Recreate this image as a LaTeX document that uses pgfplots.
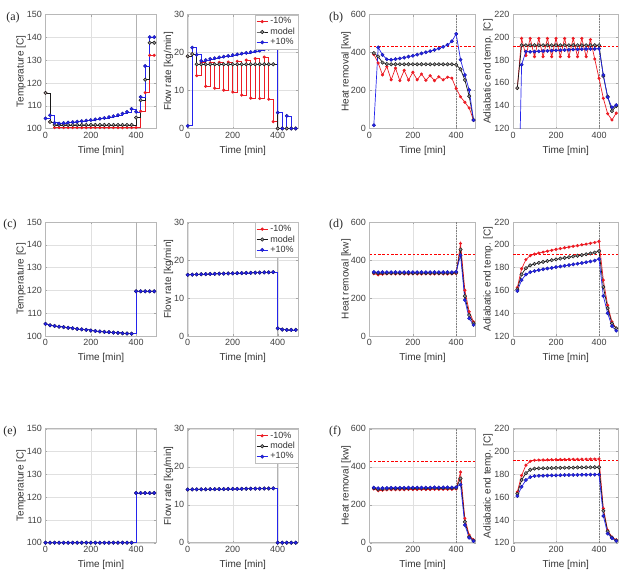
\documentclass[border=0pt]{standalone}
\usepackage{pgfplots}
\pgfplotsset{compat=1.18}
\usepackage{pgfplotstable}
\usepackage{fontspec}
\setmainfont{Liberation Sans}
\newfontfamily\panelfont{Liberation Serif}

\definecolor{cr}{RGB}{236,28,36}
\definecolor{cb}{RGB}{36,36,236}
\definecolor{ck}{RGB}{25,25,25}

% ---------- case (a)/(b): columns r = -10%, k = model, b = +10% ----------
\pgfplotstableread{
t r k b
0 115.6 115.6 104.4
20 102.9 102.9 105.8
40 100.4 101.6 102.5
60 100.4 101.6 102.2
80 100.4 101.6 102.4
100 100.4 101.6 102.6
120 100.4 101.6 102.8
140 100.4 101.6 103.0
160 100.4 101.6 103.2
180 100.4 101.6 103.5
200 100.4 101.6 103.7
220 100.4 101.6 104.0
240 100.4 101.6 104.3
260 100.4 101.6 104.6
280 100.4 101.6 105.0
300 100.4 101.6 105.4
320 100.4 101.6 105.9
340 100.4 101.6 106.5
360 100.4 101.6 107.3
380 100.4 101.6 108.6
400 100.4 104.8 107.3
420 107.6 112.4 113.8
440 115.7 121.4 127.4
460 132.1 137.6 140.1
480 132.1 137.6 140.1
}\Ta

\pgfplotstableread{
t r k b
0 19.0 19.0 0.7
20 19.6 19.6 21.3
40 13.9 16.9 19.4
60 17.3 16.9 17.8
80 11.1 16.9 18.0
100 17.3 16.9 18.3
120 10.6 16.9 18.5
140 17.4 16.9 18.7
160 10.1 16.9 18.9
180 17.5 16.9 19.1
200 9.6 16.9 19.3
220 17.7 16.9 19.5
240 8.8 16.9 19.7
260 18.0 16.9 19.9
280 8.0 16.9 20.1
300 18.4 16.9 20.3
320 7.9 16.9 20.5
340 18.8 16.9 20.8
360 7.7 16.9 21.0
380 1.8 16.9 21.3
400 0 0 4.2
420 0 0 0
440 0 0 3.3
460 0 0 0
480 0 0 0
}\Fa

\pgfplotstableread{
t r k b
20 390 397 17
40 345 379 427
60 282 347 388
80 326 340 364
100 256 338 362
120 318 338 365
140 252 338 369
160 306 338 373
180 255 338 378
200 296 338 383
220 256 338 389
240 287 338 395
260 254 338 401
280 278 338 407
300 252 338 414
320 272 338 421
340 256 338 430
360 270 338 440
380 265 338 459
400 210 335 498
420 167 312 362
440 138 255 282
460 108 170 203
480 44 45 44
}\Ha

\pgfplotstableread{
t r k b
20 155.5 155.5 0
40 199 193 176
60 184 193 187.5
80 199 193 187.3
100 183 193 187.5
120 199 193 187.7
140 183 193 187.9
160 199 193 188.1
180 183 193 188.3
200 199 193 188.5
220 183 193 188.7
240 199 193 188.9
260 183 193 189.1
280 199 193 189.3
300 183 193 189.5
320 199 193 189.6
340 183 193 189.7
360 198 193 189.8
380 181 193 189.9
400 164 193 190
420 146.5 166 167
440 133 148 147.4
460 127.5 135.3 138.5
480 133.5 139.7 140.6
}\Aa

% ---------- case (c)/(d) ----------
\pgfplotstableread{
t v
0 105.3
20 104.7
40 104.4
60 104.1
80 103.9
100 103.6
120 103.4
140 103.1
160 102.9
180 102.7
200 102.4
220 102.2
240 102.0
260 101.8
280 101.7
300 101.5
320 101.4
340 101.2
360 101.1
380 101.0
400 119.6
420 119.6
440 119.6
460 119.6
480 119.6
}\Tc

\pgfplotstableread{
t v
0 16.10
20 16.15
40 16.20
60 16.25
80 16.30
100 16.33
120 16.36
140 16.40
160 16.43
180 16.46
200 16.50
220 16.53
240 16.56
260 16.60
280 16.63
300 16.66
320 16.70
340 16.73
360 16.76
380 16.80
400 2.0
420 1.7
440 1.6
460 1.6
480 1.6
}\Fc

\pgfplotstableread{
t r k b
20 328 333 337
40 322 330 335
60 326 331 336
80 327 331 336
100 327 331 336
120 327 331 336
140 327 331 336
160 327 331 336
180 327 331 336
200 327 331 336
220 327 331 336
240 327 331 336
260 327 331 336
280 327 331 336
300 327 331 336
320 327 331 336
340 327 331 336
360 327 331 336
380 327 331 336
400 329 333 338
420 487 455 425
440 241 210 189
460 128 110 93
480 75 67 58
}\Hd

\pgfplotstableread{
t r k b
20 162.5 161 159.5
40 179 174 169
60 187 179.5 174
80 190.5 182 176
100 191.8 183.3 177
120 192.8 184.2 177.8
140 193.6 185 178.5
160 194.4 185.8 179.2
180 195.2 186.5 179.8
200 196 187.2 180.4
220 196.7 187.9 181
240 197.4 188.5 181.6
260 198 189.1 182.2
280 198.7 189.8 182.8
300 199.3 190.4 183.4
320 200 191 184
340 200.6 191.7 184.7
360 201.3 192.4 185.4
380 202 193.2 186.2
400 203 194.5 187.5
420 169 163 155
440 147 144.5 140
460 132.5 131 128.7
480 126.7 126.7 124.6
}\Ad

% ---------- case (e)/(f) ----------
\pgfplotstableread{
t v
0 100
20 100
40 100
60 100
80 100
100 100
120 100
140 100
160 100
180 100
200 100
220 100
240 100
260 100
280 100
300 100
320 100
340 100
360 100
380 100
400 121.8
420 121.8
440 121.8
460 121.8
480 121.8
}\Te

\pgfplotstableread{
t v
0 14.00
20 14.02
40 14.03
60 14.05
80 14.06
100 14.08
120 14.09
140 14.11
160 14.12
180 14.14
200 14.15
220 14.17
240 14.18
260 14.20
280 14.21
300 14.23
320 14.24
340 14.26
360 14.27
380 14.30
400 0
420 0
440 0
460 0
480 0
}\Fe

\pgfplotstableread{
t r k b
20 283 287 290
40 274 280 287
60 276 282 287
80 278 284 288
100 279 285 289
120 279 285 289
140 279 285 289
160 279 285 289
180 280 286 290
200 280 286 290
220 280 286 290
240 280 286 290
260 280 286 290
280 280 286 290
300 281 287 291
320 281 287 291
340 281 287 291
360 281 287 291
380 281 287 291
400 283 288 292
420 372 338 306
440 128 110 93
460 40 32 26
480 15 11 8
}\Hf

\pgfplotstableread{
t r k b
20 164.5 163 161
40 179 175 169
60 188 181 175
80 191.4 184 177.5
100 192.3 185 178.5
120 192.5 185.2 178.7
140 192.6 185.3 178.8
160 192.7 185.4 178.9
180 192.8 185.5 179
200 192.9 185.6 179.1
220 193 185.7 179.2
240 193 185.8 179.3
260 193.1 185.8 179.4
280 193.2 185.9 179.4
300 193.2 186 179.5
320 193.3 186 179.6
340 193.3 186.1 179.6
360 193.4 186.1 179.7
380 193.4 186.2 179.7
400 193.5 186.2 179.8
420 150 148 143.5
440 131 130 128
460 125 124.5 124
480 122.5 122 121.5
}\Af

\pgfplotsset{
  panel/.style={
    scale only axis, height=114pt, xmin=0, xmax=490, xtick={0,200,400},
    grid=major, grid style={black!12, line width=0.4pt},
    axis line style={black!28, line width=0.5pt},
    tick style={black!35, line width=0.4pt}, major tick length=2pt, tick align=inside,
    ticklabel style={font=\fontsize{9}{10}\selectfont, text=black!75},
    /pgf/number format/assume math mode=true,
    label style={font=\fontsize{10}{11}\selectfont, text=black!80},
    xlabel={Time [min]},
    xlabel style={at={(axis description cs:0.5,-0.195)}, anchor=center},
    legend cell align=left,
    legend image code/.code={\draw[mark repeat=2,mark phase=2] plot coordinates {(0cm,0cm) (0.2cm,0cm) (0.4cm,0cm)};},
    legend style={at={(1,1)}, anchor=north east, draw=black!25, fill=white,
      font=\fontsize{9}{10}\selectfont, text=black!80, inner xsep=1pt, inner ysep=1pt, row sep=-1.5pt},
  },
  colT/.style={panel, width=111pt, ymin=100, ymax=150, ytick={100,110,...,150},
    ylabel={Temperature [C]}, ylabel style={at={(axis description cs:-0.221,0.5)}, anchor=center}},
  colF/.style={panel, width=110.3pt, ymin=0, ymax=30, ytick={0,10,20,30},
    ylabel={Flow rate [kg/min]}, ylabel style={at={(axis description cs:-0.174,0.5)}, anchor=center}},
  colH/.style={panel, width=106.2pt, ymin=0, ymax=600, ytick={0,200,400,600},
    ylabel={Heat removal [kw]}, ylabel style={at={(axis description cs:-0.221,0.5)}, anchor=center}},
  colA/.style={panel, width=105.4pt, ymin=120, ymax=220, ytick={120,140,...,220},
    ylabel={Adiabatic end temp. [C]}, ylabel style={at={(axis description cs:-0.237,0.5)}, anchor=center}},
  sr/.style={cr, line width=0.7pt, mark=*, mark size=1.2pt, mark options={fill=cr, draw=cr}},
  sk/.style={ck, line width=0.7pt, mark=*, mark size=1.7pt, mark options={fill=black!40, draw=ck, line width=0.5pt}},
  sb/.style={cb, line width=0.7pt, mark=*, mark size=1.7pt, mark options={fill=cb, draw=cb!70!black, line width=0.4pt}},
  vline/.style={black!30, line width=0.5pt, forget plot},
  vdot/.style={black!50, line width=0.6pt, densely dotted, forget plot},
  lim/.style={draw=red, color=red, line width=0.7pt, dash pattern=on 2.5pt off 1.8pt, forget plot},
}

\begin{document}
\begin{tikzpicture}
\path[use as bounding box] (0pt,0pt) rectangle (622pt,-576pt);

% ===== row 1 =====
\begin{axis}[colT, at={(45.5pt,-128.5pt)}, anchor=south west]
\addplot[vline] coordinates {(400,100) (400,150)};
\addplot[sr, const plot] table[x=t,y=r]{\Ta};
\addplot[sk, const plot] table[x=t,y=k]{\Ta};
\addplot[sb, const plot] table[x=t,y=b]{\Ta};
\end{axis}
\begin{axis}[colF, at={(187.7pt,-128.5pt)}, anchor=south west]
\addplot[vline] coordinates {(400,0) (400,30)};
\addplot[sr, const plot] table[x=t,y=r]{\Fa};
\addplot[sk, const plot] table[x=t,y=k]{\Fa};
\addplot[sb, const plot] table[x=t,y=b]{\Fa};
\legend{-10\%, model, +10\%}
\end{axis}
\begin{axis}[colH, at={(369.5pt,-128.5pt)}, anchor=south west]
\addplot[vdot] coordinates {(400,0) (400,600)};
\addplot[lim] coordinates {(0,430) (490,430)};
\addplot[sr] table[x=t,y=r]{\Ha};
\addplot[sk] table[x=t,y=k]{\Ha};
\addplot[sb] table[x=t,y=b]{\Ha};
\end{axis}
\begin{axis}[colA, at={(513pt,-128.5pt)}, anchor=south west, clip marker paths=true]
\addplot[vdot] coordinates {(400,120) (400,220)};
\addplot[lim] coordinates {(0,192) (490,192)};
\addplot[sr] table[x=t,y=r]{\Aa};
\addplot[sk] table[x=t,y=k]{\Aa};
\addplot[sb] table[x=t,y=b]{\Aa};
\end{axis}

% ===== row 2 =====
\begin{axis}[colT, at={(45.5pt,-336pt)}, anchor=south west]
\addplot[vline] coordinates {(400,100) (400,150)};
\addplot[sr, const plot] table[x=t,y=v]{\Tc};
\addplot[sk, const plot] table[x=t,y=v]{\Tc};
\addplot[sb, const plot] table[x=t,y=v]{\Tc};
\end{axis}
\begin{axis}[colF, at={(187.7pt,-336pt)}, anchor=south west]
\addplot[vline] coordinates {(400,0) (400,30)};
\addplot[sr, const plot] table[x=t,y=v]{\Fc};
\addplot[sk, const plot] table[x=t,y=v]{\Fc};
\addplot[sb, const plot] table[x=t,y=v]{\Fc};
\legend{-10\%, model, +10\%}
\end{axis}
\begin{axis}[colH, at={(369.5pt,-336pt)}, anchor=south west]
\addplot[vdot] coordinates {(400,0) (400,600)};
\addplot[lim] coordinates {(0,430) (490,430)};
\addplot[sr] table[x=t,y=r]{\Hd};
\addplot[sk] table[x=t,y=k]{\Hd};
\addplot[sb] table[x=t,y=b]{\Hd};
\end{axis}
\begin{axis}[colA, at={(513pt,-336pt)}, anchor=south west]
\addplot[vdot] coordinates {(400,120) (400,220)};
\addplot[lim] coordinates {(0,192) (490,192)};
\addplot[sr] table[x=t,y=r]{\Ad};
\addplot[sk] table[x=t,y=k]{\Ad};
\addplot[sb] table[x=t,y=b]{\Ad};
\end{axis}

% ===== row 3 =====
\begin{axis}[colT, at={(45.5pt,-542.7pt)}, anchor=south west]
\addplot[vline] coordinates {(400,100) (400,150)};
\addplot[sr, const plot] table[x=t,y=v]{\Te};
\addplot[sk, const plot] table[x=t,y=v]{\Te};
\addplot[sb, const plot] table[x=t,y=v]{\Te};
\end{axis}
\begin{axis}[colF, at={(187.7pt,-542.7pt)}, anchor=south west]
\addplot[vline] coordinates {(400,0) (400,30)};
\addplot[sr, const plot] table[x=t,y=v]{\Fe};
\addplot[sk, const plot] table[x=t,y=v]{\Fe};
\addplot[sb, const plot] table[x=t,y=v]{\Fe};
\legend{-10\%, model, +10\%}
\end{axis}
\begin{axis}[colH, at={(369.5pt,-542.7pt)}, anchor=south west]
\addplot[vdot] coordinates {(400,0) (400,600)};
\addplot[lim] coordinates {(0,430) (490,430)};
\addplot[sr] table[x=t,y=r]{\Hf};
\addplot[sk] table[x=t,y=k]{\Hf};
\addplot[sb] table[x=t,y=b]{\Hf};
\end{axis}
\begin{axis}[colA, at={(513pt,-542.7pt)}, anchor=south west]
\addplot[vdot] coordinates {(400,120) (400,220)};
\addplot[lim] coordinates {(0,192) (490,192)};
\addplot[sr] table[x=t,y=r]{\Af};
\addplot[sk] table[x=t,y=k]{\Af};
\addplot[sb] table[x=t,y=b]{\Af};
\end{axis}

% panel letters
\begin{scope}[every node/.style={font=\panelfont\fontsize{12}{12}\selectfont, text=black!85}]
\node at (13pt,-18pt) {(a)};
\node at (336pt,-18pt) {(b)};
\node at (10pt,-224.5pt) {(c)};
\node at (336pt,-224.5pt) {(d)};
\node at (10pt,-432pt) {(e)};
\node at (335pt,-432pt) {(f)};
\end{scope}
\end{tikzpicture}
\end{document}
